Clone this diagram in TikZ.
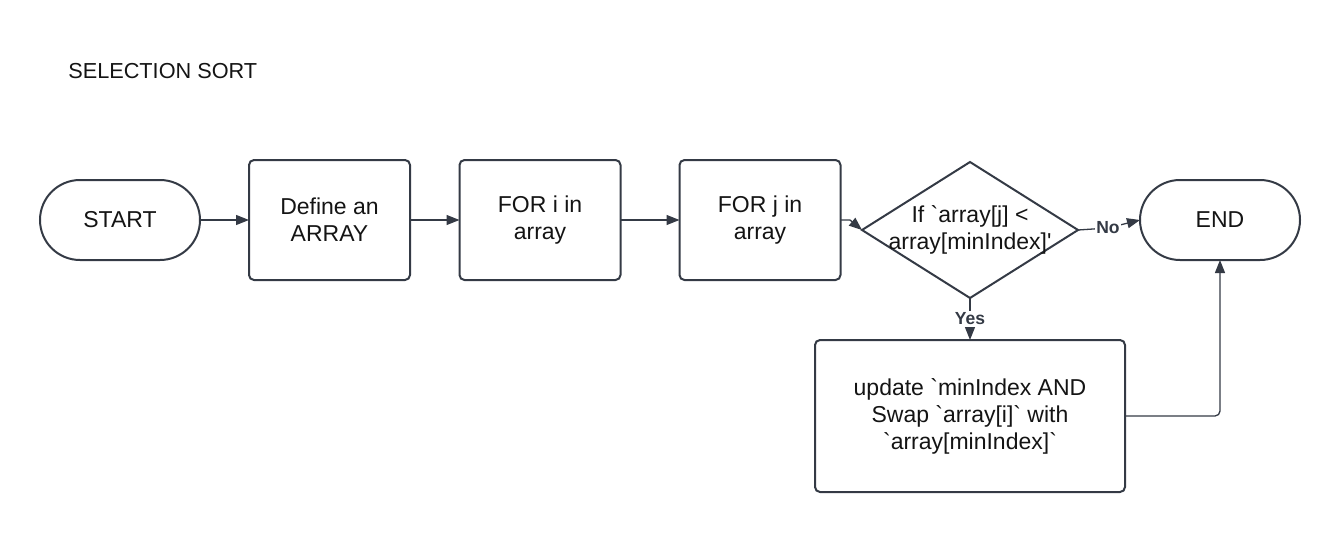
\documentclass[tikz,border=0pt]{standalone}
\usepackage{fontspec}
\setmainfont{Liberation Sans}[Ligatures=TeXOff]
\usetikzlibrary{arrows.meta,shapes.geometric}
\definecolor{strk}{HTML}{343A45}
\definecolor{txt}{HTML}{141414}
\begin{document}
\begin{tikzpicture}[x=1pt,y=-1pt,
  every node/.style={text=txt,font=\fontsize{23}{27}\selectfont,align=center,outer sep=0pt},
  stadium/.style={draw=strk,line width=2pt,rounded corners=40pt,minimum width=160pt,minimum height=80pt,inner sep=0pt},
  procbox/.style={draw=strk,line width=2pt,rounded corners=5pt,minimum width=161pt,minimum height=120pt,inner sep=0pt},
  decide/.style={draw=strk,line width=2pt,diamond,aspect=1.588,minimum width=216pt,minimum height=136pt,inner sep=0pt},
  conn/.style={draw=strk,line width=1.3pt,-{Triangle[length=13pt,width=10pt]}},
  lbl/.style={fill=white,font=\fontsize{17.5}{20}\selectfont\bfseries,text=strk,inner sep=1.5pt}]
\useasboundingbox (0,0) rectangle (1340,533);
\node[anchor=west,font=\fontsize{21.7}{24}\selectfont] (title) at (65,71) {SELECTION SORT};
\node[stadium] (start) at (120,220) {START};
\node[procbox] (def) at (329.5,220) {Define an\\ARRAY};
\node[procbox] (fori) at (540,220) {FOR i in\\array};
\node[procbox] (forj) at (760,220) {FOR j in\\array};
\node[decide] (dia) at (970,230) {};
\node (diatxt) at (970,230) {If `array[j] <\\array[minIndex]'};
\node[stadium] (end) at (1220,220) {END};
\node[procbox,minimum width=310pt,minimum height=152pt] (upd) at (970,416) {update `minIndex AND\\Swap `array[i]` with\\`array[minIndex]`};
\coordinate (jk) at (850,220);
\coordinate (nk) at (1108,228);
\draw[conn] (start) -- (def);
\draw[conn] (def) -- (fori);
\draw[conn] (fori) -- (forj);
\draw[conn] (forj.east) -- (jk) -- (dia.west);
\draw[conn] (dia.east) -- (nk) node[lbl] {No} -- (end.west);
\draw[conn] (dia.south) -- node[lbl] {Yes} (upd.north);
\draw[conn,rounded corners=5pt] (upd.east) -| (end.south);
\end{tikzpicture}
\end{document}
